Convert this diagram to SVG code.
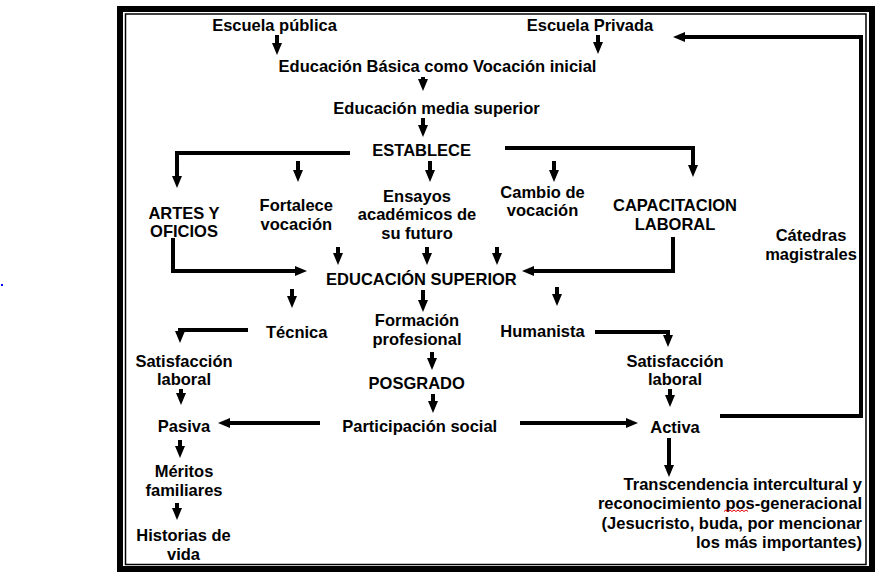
<svg xmlns="http://www.w3.org/2000/svg" width="882" height="580" viewBox="0 0 882 580">
<style>
text{font-family:"Liberation Sans",Arial,sans-serif;font-weight:bold;font-size:16.5px;fill:#000}
.c{text-anchor:middle}
.r{text-anchor:end}
.ln{fill:none;stroke:#000;stroke-width:4;stroke-linejoin:miter;marker-end:url(#ah)}
.frame{fill:none;stroke:#000}
</style>
<defs>
<marker id="ah" viewBox="0 0 12 10" markerWidth="12" markerHeight="10" refX="1" refY="5" orient="auto" markerUnits="userSpaceOnUse"><path d="M0,0 L12,5 L0,10 z" fill="#000"/></marker>
</defs>
<rect width="882" height="580" fill="#fff"/>
<g id="frame">
<rect class="frame" x="120" y="9" width="752" height="560" stroke-width="6"/>
<rect class="frame" x="125.5" y="14" width="740.5" height="550.5" stroke-width="1.5"/>
</g>
<rect x="1" y="284" width="2" height="2" fill="#0000ff"/>
<g id="connectors">
<path class="ln" d="M277,35 V44"/>
<path class="ln" d="M598,35 V43"/>
<path class="ln" d="M423,77 V80"/>
<path class="ln" d="M423,118 V126"/>
<path class="ln" d="M298,161 V171"/>
<path class="ln" d="M430,161 V171"/>
<path class="ln" d="M554,161 V171"/>
<path class="ln" d="M350,153 H177 V177"/>
<path class="ln" d="M505,148 H693 V166"/>
<path class="ln" d="M173,238 V271 H296"/>
<path class="ln" d="M673,237 V271 H533"/>
<path class="ln" d="M338,247 V254"/>
<path class="ln" d="M427,247 V254"/>
<path class="ln" d="M497,247 V254"/>
<path class="ln" d="M292,289 V297"/>
<path class="ln" d="M423,290 V301"/>
<path class="ln" d="M557,287 V295"/>
<path class="ln" d="M248,330 H180 V332"/>
<path class="ln" d="M595,332 H668 V336"/>
<path class="ln" d="M432,352 V359"/>
<path class="ln" d="M181,389 V394"/>
<path class="ln" d="M670,389 V396"/>
<path class="ln" d="M433,394 V402"/>
<path class="ln" d="M320,423 H229"/>
<path class="ln" d="M520,423 H627"/>
<path class="ln" d="M180,440 V447"/>
<path class="ln" d="M177,503 V509"/>
<path class="ln" d="M669,438 V466"/>
<path class="ln" d="M720,416 H861 V37 H684"/>
</g>
<g id="n-publica"><text class="c" x="274.5" y="31">Escuela pública</text></g>
<g id="n-privada"><text class="c" x="590" y="31">Escuela Privada</text></g>
<g id="n-basica"><text class="c" x="437.5" y="72">Educación Básica como Vocación inicial</text></g>
<g id="n-media"><text class="c" x="436.5" y="114">Educación media superior</text></g>
<g id="n-establece"><text class="c" x="421.7" y="156">ESTABLECE</text></g>
<g id="n-artes"><text class="c" x="184" y="219">ARTES Y</text><text class="c" x="184" y="237">OFICIOS</text></g>
<g id="n-fortalece"><text class="c" x="296.3" y="211">Fortalece</text><text class="c" x="296.3" y="229.5">vocación</text></g>
<g id="n-ensayos"><text class="c" x="417" y="201.5">Ensayos</text><text class="c" x="417" y="220">académicos de</text><text class="c" x="417" y="238.5">su futuro</text></g>
<g id="n-cambio"><text class="c" x="542.5" y="197.5">Cambio de</text><text class="c" x="542.5" y="216">vocación</text></g>
<g id="n-capacitacion"><text class="c" x="675" y="211">CAPACITACION</text><text class="c" x="675" y="229.5">LABORAL</text></g>
<g id="n-catedras"><text class="c" x="811" y="240.5">Cátedras</text><text class="c" x="811" y="259.5">magistrales</text></g>
<g id="n-superior"><text class="c" x="421.4" y="284.5">EDUCACIÓN SUPERIOR</text></g>
<g id="n-tecnica"><text class="c" x="296.7" y="338">Técnica</text></g>
<g id="n-formacion"><text class="c" x="417" y="326">Formación</text><text class="c" x="417" y="344.5">profesional</text></g>
<g id="n-humanista"><text class="c" x="542.5" y="337">Humanista</text></g>
<g id="n-satisf-l"><text class="c" x="184" y="367">Satisfacción</text><text class="c" x="184" y="385">laboral</text></g>
<g id="n-satisf-r"><text class="c" x="675" y="366.5">Satisfacción</text><text class="c" x="675" y="385">laboral</text></g>
<g id="n-posgrado"><text class="c" x="416.7" y="388.5">POSGRADO</text></g>
<g id="n-pasiva"><text class="c" x="184" y="432">Pasiva</text></g>
<g id="n-participacion"><text class="c" x="419.7" y="432">Participación social</text></g>
<g id="n-activa"><text class="c" x="675" y="433">Activa</text></g>
<g id="n-meritos"><text class="c" x="184" y="477">Méritos</text><text class="c" x="184" y="495.5">familiares</text></g>
<g id="n-historias"><text class="c" x="183.5" y="541">Historias de</text><text class="c" x="183.5" y="559.5">vida</text></g>
<g id="n-transcendencia">
<text class="r" x="862" y="489.5">Transcendencia intercultural y</text>
<text class="r" x="862" y="509">reconocimiento pos-generacional</text>
<text class="r" x="862" y="528.5">(Jesucristo, buda, por mencionar</text>
<text class="r" x="862" y="548">los más importantes)</text>
<path d="M724,511.5 l2,-1.5 l2,1.5 l2,-1.5 l2,1.5 l2,-1.5 l2,1.5 l2,-1.5 l2,1.5 l2,-1.5 l2,1.5 l2,-1.5 l2,1.5" fill="none" stroke="#e00000" stroke-width="1"/>
</g>
</svg>
